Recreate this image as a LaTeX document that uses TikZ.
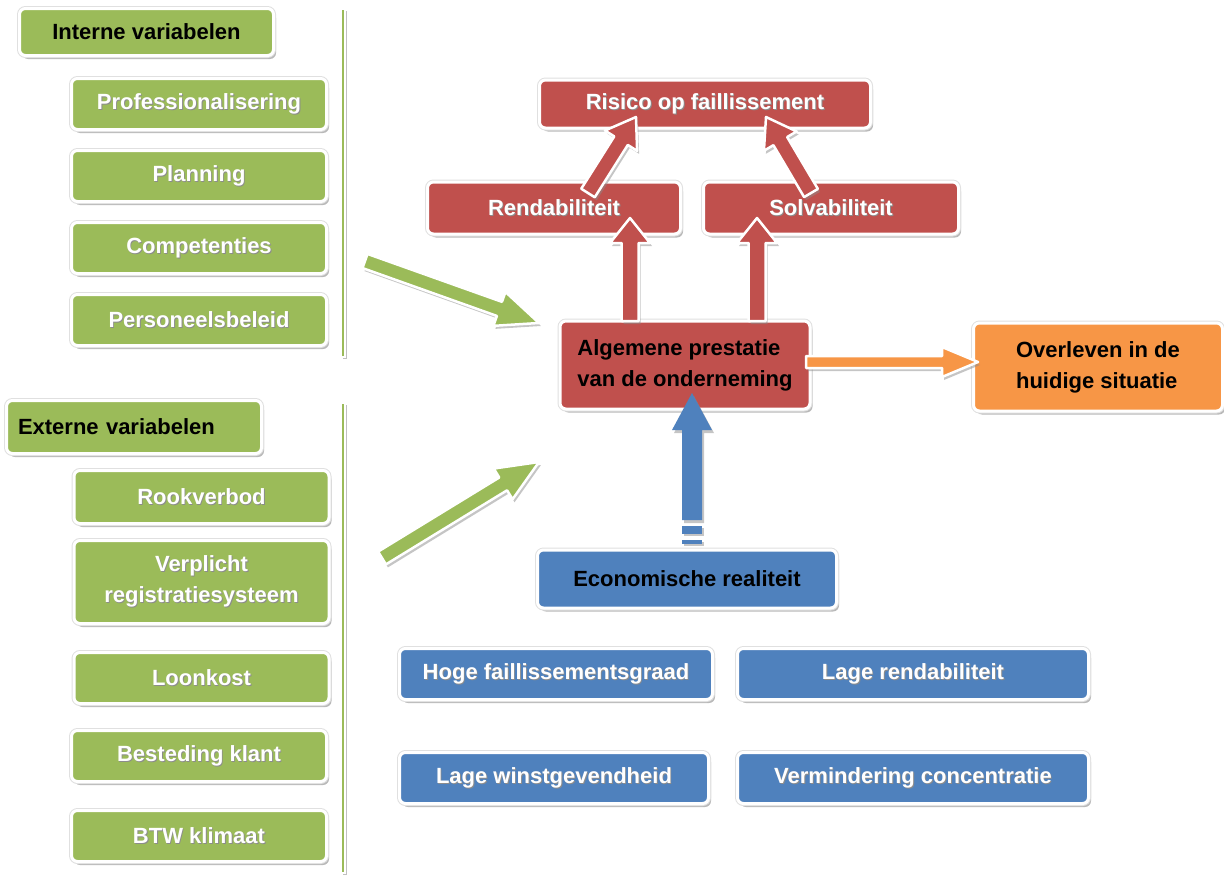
\documentclass[tikz,border=0pt]{standalone}
\usepackage{fontspec}
\setmainfont{Liberation Sans}
\usetikzlibrary{shadows,calc}
\definecolor{ogreen}{RGB}{155,187,89}
\definecolor{ored}{RGB}{192,80,77}
\definecolor{oblue}{RGB}{79,129,189}
\definecolor{oorange}{RGB}{247,150,70}
\newdimen\baX \newdimen\baY \newdimen\bbX \newdimen\bbY
% #1 style of arrow body, #2 from, #3 to, #4 shaft half width, #5 head half width, #6 head length
\newcommand\blockarrow[6]{%
  \pgfextractx{\baX}{\pgfpointanchor{#2}{center}}%
  \pgfextracty{\baY}{\pgfpointanchor{#2}{center}}%
  \pgfextractx{\bbX}{\pgfpointanchor{#3}{center}}%
  \pgfextracty{\bbY}{\pgfpointanchor{#3}{center}}%
  \pgfmathsetmacro\baAng{atan2(\bbY-\baY,\bbX-\baX)}%
  \pgfmathsetmacro\baLen{veclen(\bbX-\baX,\bbY-\baY)}%
  \pgfmathsetmacro\baNeck{\baLen-#6}%
  \def\baPoly{(0pt,-#4pt) -- (\baNeck pt,-#4pt) -- (\baNeck pt,-#5pt) -- (\baLen pt,0pt) -- (\baNeck pt,#5pt) -- (\baNeck pt,#4pt) -- (0pt,#4pt) -- cycle}%
  \begin{scope}[shift={(\the\baX+2pt,\the\baY-3pt)},rotate=\baAng]
    \fill[black!45,opacity=.5] \baPoly;
  \end{scope}%
  \begin{scope}[shift={(\the\baX,\the\baY)},rotate=\baAng]
    \path[line join=round,#1] \baPoly;
  \end{scope}%
}
% white text with a soft dark shadow
\newcommand\stx[1]{\leavevmode\rlap{\kern0.9pt\raisebox{-0.9pt}{\textcolor{black!45}{#1}}}#1}
\tikzset{
  box/.style={rounded corners=6pt, draw=white, line width=3pt, text=white,
    font=\fontsize{22}{31}\selectfont\bfseries, inner sep=0pt, align=center,
    drop shadow={shadow xshift=2.5pt, shadow yshift=-3.5pt, fill=black!50, opacity=.55},
    preaction={draw=black!12, line width=5pt}},
  gbox/.style={box, fill=ogreen, minimum width=255pt, minimum height=51pt},
  rbox/.style={box, fill=ored},
  bbox/.style={box, fill=oblue, minimum height=51pt},
  obox/.style={box, fill=oorange},
  dark/.style={text=black},
  vbar/.style={fill=ogreen, draw=white, line width=2pt, minimum width=4pt, inner sep=0pt,
    drop shadow={shadow xshift=2pt, shadow yshift=-2pt, fill=black!45, opacity=.55}},
  stripe/.style={fill=oblue, inner sep=0pt, minimum width=20pt,
    drop shadow={shadow xshift=2pt, shadow yshift=-2pt, fill=black!45, opacity=.5}},
  redarrow/.style={fill=ored, draw=white, line width=2.5pt},
  greenarrow/.style={fill=ogreen, draw=white, line width=2.5pt},
  orangearrow/.style={fill=oorange, draw=white, line width=2.5pt},
  bluearrow/.style={fill=oblue},
}
\begin{document}
\begin{tikzpicture}[x=1pt,y=-1pt]
\useasboundingbox (0,0) rectangle (1224,878);
% vertical bars
\node[vbar, minimum height=348pt] (bar1) at (343,183) {};
\node[vbar, minimum height=470pt] (bar2) at (343,638) {};
% internal variables
\node[gbox, dark, minimum width=254pt, minimum height=47pt] (int) at (146.5,32) {Interne variabelen};
\node[gbox] (prof) at (199,104) {\stx{Professionalisering}};
\node[gbox] (plan) at (199,176) {\stx{Planning}};
\node[gbox] (comp) at (199,248) {\stx{Competenties}};
\node[gbox] (pers) at (199,320) {\stx{Personeelsbeleid}};
% external variables
\node[gbox, dark, text width=232pt, align=left, minimum height=53pt] (ext) at (134,427) {Externe variabelen};
\node[gbox, minimum height=53pt] (rook) at (201.5,497) {\stx{Rookverbod}};
\node[gbox, minimum height=83pt] (verp) at (201.5,582) {\stx{Verplicht}\\\stx{registratiesysteem}};
\node[gbox] (loon) at (201.5,678) {\stx{Loonkost}};
\node[gbox] (best) at (199,756) {\stx{Besteding klant}};
\node[gbox] (btw) at (199,836) {\stx{BTW klimaat}};
% red block
\node[rbox, minimum width=331pt, minimum height=48pt] (ris) at (705,104) {\stx{Risico op faillissement}};
\node[rbox, minimum width=253pt, minimum height=52pt] (rend) at (554,208) {\stx{Rendabiliteit}};
\node[rbox, minimum width=255pt, minimum height=52pt] (solv) at (831,208) {\stx{Solvabiliteit}};
\node[rbox, dark, align=left, minimum width=250pt, minimum height=88pt] (alg) at (685,365) {Algemene prestatie\\van de onderneming};
\node[obox, dark, align=left, minimum width=249pt, minimum height=88pt] (over) at (1098,367) {Overleven in de\\huidige situatie};
% blue block
\node[bbox, dark, minimum width=299pt, minimum height=58pt] (eco) at (687,579) {Economische realiteit};
\node[bbox, minimum width=313pt] (hoge) at (556,674) {\stx{Hoge faillissementsgraad}};
\node[bbox, minimum width=351pt] (lren) at (913,674) {\stx{Lage rendabiliteit}};
\node[bbox, minimum width=309pt] (lwin) at (554,778) {\stx{Lage winstgevendheid}};
\node[bbox, minimum width=351pt] (verm) at (913,778) {\stx{Vermindering concentratie}};
% arrow end points
\coordinate (ra1s) at (588,193); \coordinate (ra1e) at (636,117);
\coordinate (ra2s) at (811,193); \coordinate (ra2e) at (766,117);
\coordinate (rv1s) at (630,321); \coordinate (rv1e) at (630,218);
\coordinate (rv2s) at (757,321); \coordinate (rv2e) at (757,218);
\coordinate (oas) at (806,362);  \coordinate (oae) at (978,362);
\coordinate (bas) at (692,520);  \coordinate (bae) at (692,393);
\coordinate (ga1s) at (365,261); \coordinate (ga1e) at (539,323);
\coordinate (ga2s) at (382,558); \coordinate (ga2e) at (539,462);
% arrows
\blockarrow{redarrow}{ra1s}{ra1e}{8}{19}{28}
\blockarrow{redarrow}{ra2s}{ra2e}{8}{19}{28}
\blockarrow{redarrow}{rv1s}{rv1e}{8.5}{20}{25}
\blockarrow{redarrow}{rv2s}{rv2e}{8.5}{20}{25}
\blockarrow{orangearrow}{oas}{oae}{6}{15}{36}
\blockarrow{bluearrow}{bas}{bae}{10}{20}{37}
\blockarrow{greenarrow}{ga1s}{ga1e}{7.5}{18}{42}
\blockarrow{greenarrow}{ga2s}{ga2e}{7.5}{18}{42}
\node[stripe, minimum height=8pt] (st1) at (692,530) {};
\node[stripe, minimum height=4pt] (st2) at (692,542) {};
\end{tikzpicture}
\end{document}
